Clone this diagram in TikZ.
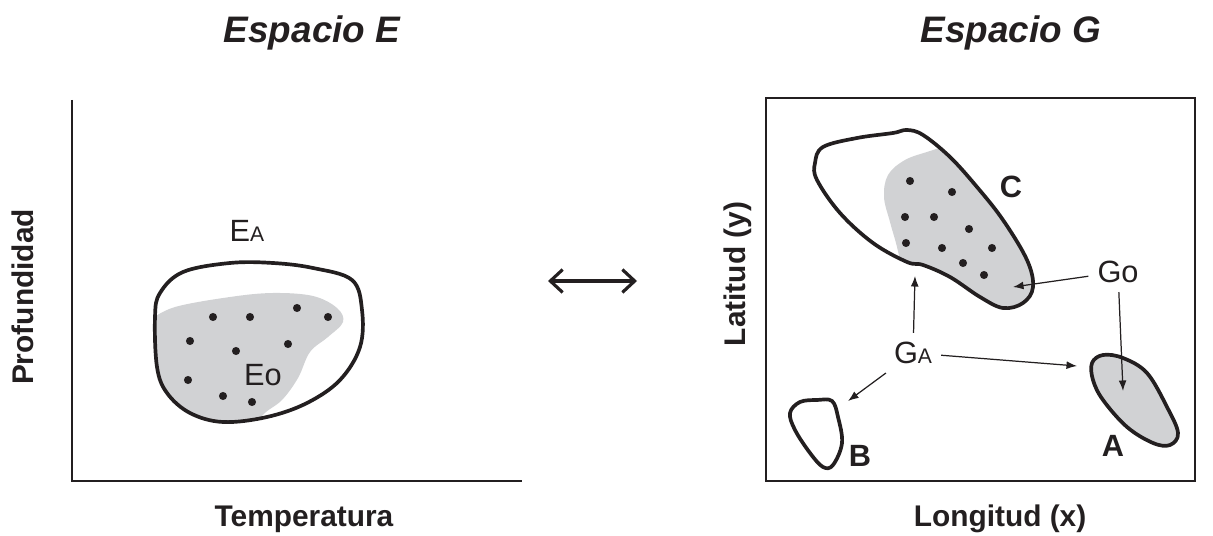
\documentclass[tikz,border=0pt]{standalone}
\usepackage{fontspec}
\setmainfont{Liberation Sans}
\usetikzlibrary{arrows.meta}
\definecolor{ink}{RGB}{35,31,32}
\definecolor{blobgray}{RGB}{209,210,212}
\newcommand{\smallA}{{\fontsize{12}{12}\selectfont A}}
\begin{document}
\begin{tikzpicture}[x=0.02cm,y=-0.02cm,
  blob/.style={line width=2.1pt, draw=ink, line join=round},
  axis/.style={line width=0.8pt, draw=ink},
  ptr/.style={line width=0.7pt, draw=ink, -{Latex[length=6pt,width=4.5pt]}},
  dbl/.style={line width=1.8pt, draw=ink, {Straight Barb[length=7pt,width=13pt]}-{Straight Barb[length=7pt,width=13pt]}},
  title/.style={font=\fontsize{21}{25}\selectfont\bfseries\itshape, text=ink},
  axlabel/.style={font=\fontsize{17}{20}\selectfont\bfseries, text=ink},
  lbl/.style={font=\fontsize{17.5}{20}\selectfont, text=ink, inner sep=5pt},
  blbl/.style={font=\fontsize{17.5}{20}\selectfont\bfseries, text=ink, inner sep=1pt}
]
\useasboundingbox (0,0) rectangle (1213,536);

% titles
\node[title] (tE) at (312,33) {Espacio E};
\node[title] (tG) at (1011,33) {Espacio G};

% left axes
\coordinate (oE) at (72,481);
\coordinate (yE) at (72,100);
\coordinate (xE) at (522,481);
\draw[axis] (yE) -- (oE) -- (xE);
\node[axlabel, rotate=90] (ylabE) at (23,297) {Profundidad};
\node[axlabel] (xlabE) at (304,519) {Temperatura};

% right frame
\draw[axis] (766,98) rectangle (1195,481);
\node[axlabel, rotate=90] (ylabG) at (738,274) {Latitud (y)};
\node[axlabel] (xlabG) at (1000,519) {Longitud (x)};

% double arrow
\coordinate (dL) at (548,281);
\coordinate (dR) at (637,281);
\draw[dbl] (dL) -- (dR);

% ---- E space blob ----
\begin{scope}
\clip plot[smooth cycle, tension=0.6] coordinates {(155,317) (160,293) (183,272) (230,263) (273,263) (313,268) (352,280) (362,310) (360,347) (340,380) (307,403) (267,417) (223,422) (190,413) (167,393) (157,367)};
\fill[blobgray] plot[smooth, tension=0.6] coordinates {(150,320) (175,307) (230,297) (273,293) (313,296) (337,308) (343,322) (328,337) (310,352) (298,378) (282,400) (262,416) (250,440)} -- (140,440) -- cycle;
\end{scope}
\draw[blob] plot[smooth cycle, tension=0.6] coordinates {(155,317) (160,293) (183,272) (230,263) (273,263) (313,268) (352,280) (362,310) (360,347) (340,380) (307,403) (267,417) (223,422) (190,413) (167,393) (157,367)};
\foreach \p in {(213,317),(250,317),(297,308),(328,317),(190,341),(236,351),(288,344),(188,380),(223,396),(252,402)}
  \fill[ink] \p circle (2.3pt);
\node[lbl] (EA) at (247,231) {E\smallA};
\node[lbl] (Eo) at (263,375) {Eo};

% ---- G space: blob C ----
\begin{scope}
\clip plot[smooth cycle, tension=0.6] coordinates {(815,163) (823,147) (857,138) (893,133) (907,130) (923,135) (950,157) (977,187) (1003,220) (1027,260) (1033,287) (1023,303) (1003,308) (980,297) (950,277) (923,265) (907,262) (873,243) (840,213) (817,180)};
\fill[blobgray] plot[smooth, tension=0.6] coordinates {(965,140) (930,151) (905,160) (888,175) (884,197) (890,222) (897,247) (903,275)} -- (1060,330) -- (1060,130) -- cycle;
\end{scope}
\draw[blob] plot[smooth cycle, tension=0.6] coordinates {(815,163) (823,147) (857,138) (893,133) (907,130) (923,135) (950,157) (977,187) (1003,220) (1027,260) (1033,287) (1023,303) (1003,308) (980,297) (950,277) (923,265) (907,262) (873,243) (840,213) (817,180)};
\foreach \p in {(910,181),(952,192),(905,217),(934,217),(969,229),(906,243),(942,248),(992,248),(963,263),(984,275)}
  \fill[ink] \p circle (2.3pt);
\node[blbl] (C) at (1011,187) {C};

% blob A
\draw[blob, fill=blobgray] plot[smooth cycle, tension=0.6] coordinates {(1092,363) (1103,355) (1123,358) (1147,373) (1167,407) (1178,433) (1170,445) (1153,443) (1127,427) (1103,400) (1093,380)};
\node[blbl] (A) at (1113,446) {A};

% blob B
\draw[blob] plot[smooth cycle, tension=0.6] coordinates {(790,413) (800,402) (817,400) (832,401) (838,417) (842,443) (833,465) (823,467) (810,453) (795,430)};
\node[blbl] (B) at (860,456) {B};

% labels and pointers
\node[lbl] (GA) at (913,353) {G\smallA};
\node[lbl] (Go) at (1118,272) {Go};
\coordinate (tipC) at (915,276);
\coordinate (tipCo) at (1013,287);
\coordinate (tipA) at (1077,366);
\coordinate (tipAo) at (1123,391);
\coordinate (tipB) at (848,401);
\draw[ptr] (GA) -- (tipC);
\draw[ptr] (GA) -- (tipA);
\draw[ptr] (GA) -- (tipB);
\draw[ptr] (Go) -- (tipCo);
\draw[ptr] (Go) -- (tipAo);
\end{tikzpicture}
\end{document}
